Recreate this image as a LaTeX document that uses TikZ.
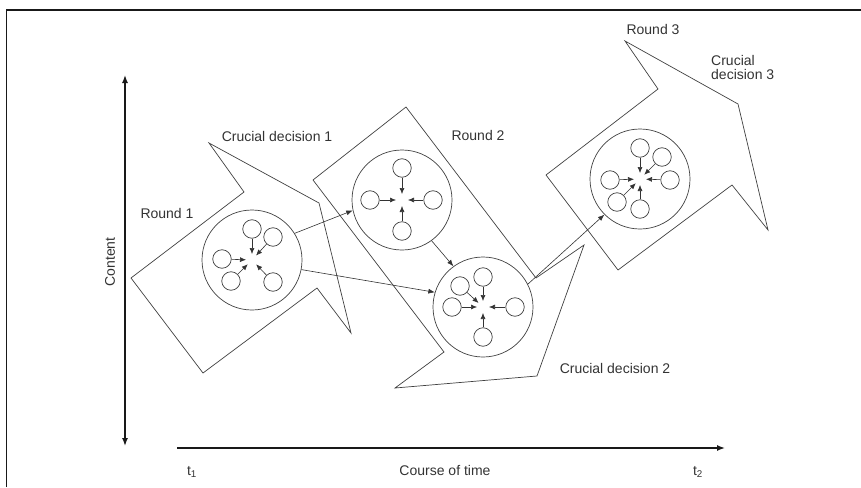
\documentclass[tikz,border=0pt]{standalone}
\usepackage{fontspec}
\setmainfont{Liberation Sans}
\usetikzlibrary{arrows.meta}
\begin{document}
\begin{tikzpicture}[x=1pt,y=-1pt,
  lbl/.style={font=\fontsize{14}{14}\selectfont, text=black!80, inner sep=0pt},
  shapeline/.style={draw=black!75, line width=0.7pt, line join=miter},
  bigc/.style={circle, draw=black!75, line width=0.7pt, minimum size=100pt, inner sep=0pt},
  smallc/.style={circle, draw=black!75, line width=0.7pt, minimum size=18.5pt, inner sep=0pt},
  sarr/.style={draw=black!80, line width=0.6pt, -{Latex[length=6pt,width=5pt]}, shorten >=6pt},
  carr/.style={draw=black!80, line width=0.6pt, -{Latex[length=6.5pt,width=5pt]}},
  axis/.style={draw=black!90, line width=1.4pt}
]
\useasboundingbox (0,0) rectangle (861,487);
% frame
\draw[black!90, line width=1.5pt] (6.5,487) -- (6.5,10) -- (861,10);

% axes
\coordinate (vtop) at (125,75);
\coordinate (vbot) at (125,446);
\coordinate (hl) at (177,448);
\coordinate (hr) at (725,448);
\draw[axis, {Latex[length=8pt,width=6pt]}-{Latex[length=8pt,width=6pt]}] (vtop) -- (vbot);
\draw[axis, -{Latex[length=8pt,width=6pt]}] (hl) -- (hr);

% round shapes
\draw[shapeline] (209,143) -- (244,192) -- (131,278) -- (203,373) -- (317,288) -- (351,333) -- (319,203) -- cycle;
\draw[shapeline] (406,107) -- (313,180) -- (444,352) -- (395,388) -- (537,376) -- (584,245) -- (536,278) -- cycle;
\draw[shapeline] (625,41) -- (658,89) -- (546,175) -- (618,270) -- (732,185) -- (768,230) -- (738,104) -- cycle;

% big circles
\node[bigc] (c1) at (252,260) {};
\node[bigc] (c2) at (402,200) {};
\node[bigc] (c3) at (483,307) {};
\node[bigc] (c4) at (640,179) {};

% circle 1 members
\node[smallc] (a1) at (252,229) {};
\node[smallc] (a2) at (273,237) {};
\node[smallc] (a3) at (222,259) {};
\node[smallc] (a4) at (231,281) {};
\node[smallc] (a5) at (273,282) {};
\foreach \n in {a1,a2,a3,a4,a5} \draw[sarr] (\n) -- (c1.center);

% circle 2 members
\node[smallc] (b1) at (402,168) {};
\node[smallc] (b2) at (370,200) {};
\node[smallc] (b3) at (433,200) {};
\node[smallc] (b4) at (402,231) {};
\foreach \n in {b1,b2,b3,b4} \draw[sarr] (\n) -- (c2.center);

% circle 3 members
\node[smallc] (d1) at (483,277) {};
\node[smallc] (d2) at (460,286) {};
\node[smallc] (d3) at (452,307) {};
\node[smallc] (d4) at (515,307) {};
\node[smallc] (d5) at (483,337) {};
\foreach \n in {d1,d2,d3,d4,d5} \draw[sarr] (\n) -- (c3.center);

% circle 4 members
\node[smallc] (e1) at (640,148) {};
\node[smallc] (e2) at (662,157) {};
\node[smallc] (e3) at (670,180) {};
\node[smallc] (e4) at (610,180) {};
\node[smallc] (e5) at (617,202) {};
\node[smallc] (e6) at (640,209) {};
\foreach \n in {e1,e2,e3,e4,e5,e6} \draw[sarr] (\n) -- (c4.center);

% connectors between circles
\draw[carr] (c1.32) -- (c2.192);
\draw[carr] (c1.349) -- (c3.163);
\draw[carr] (c2.306) -- (c3.126);
\draw[carr] (c3.27) -- (c4.225);

% labels
\node[lbl] (l1) at (277,136) {Crucial decision 1};
\node[lbl] (r1) at (167,213) {Round 1};
\node[lbl] (r2) at (478,135) {Round 2};
\node[lbl] (r3) at (653,29) {Round 3};
\node[lbl, anchor=west, align=left] (l3) at (711,67) {Crucial\\decision 3};
\node[lbl] (l2) at (615,368) {Crucial decision 2};
\node[lbl, rotate=90] (ct) at (110,262) {Content};
\node[lbl] (t1) at (192,472) {t\textsubscript{1}};
\node[lbl] (t2) at (698,472) {t\textsubscript{2}};
\node[lbl] (ct2) at (445,470) {Course of time};
\end{tikzpicture}
\end{document}
